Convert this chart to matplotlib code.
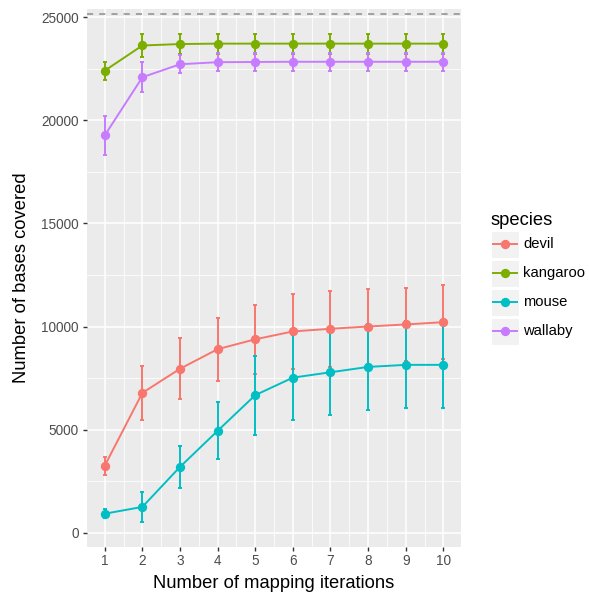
import matplotlib
matplotlib.use("Agg")
import matplotlib.pyplot as plt
from matplotlib.patches import Rectangle
from matplotlib.lines import Line2D
from matplotlib.ticker import MultipleLocator

plt.rcParams['font.family'] = ['Liberation Sans', 'DejaVu Sans']

# data
iterations = [1, 2, 3, 4, 5, 6, 7, 8, 9, 10]
species = ['devil', 'kangaroo', 'mouse', 'wallaby']
colors = {'devil': '#F8766D', 'kangaroo': '#7CAE00', 'mouse': '#00BFC4', 'wallaby': '#C77CFF'}

devil_mean = [3250, 6780, 7950, 8900, 9380, 9760, 9890, 10000, 10100, 10210]
devil_err = [430, 1320, 1470, 1520, 1660, 1800, 1830, 1810, 1790, 1810]
kangaroo_mean = [22410, 23630, 23700, 23720, 23720, 23720, 23720, 23720, 23720, 23720]
kangaroo_err = [440, 550, 480, 480, 480, 480, 480, 480, 480, 480]
mouse_mean = [920, 1250, 3190, 4940, 6670, 7520, 7780, 8040, 8140, 8140]
mouse_err = [220, 740, 1020, 1380, 1920, 2070, 2090, 2100, 2110, 2110]
wallaby_mean = [19270, 22090, 22720, 22820, 22830, 22840, 22840, 22840, 22840, 22840]
wallaby_err = [940, 730, 430, 440, 440, 440, 440, 440, 440, 440]

means = {'devil': devil_mean, 'kangaroo': kangaroo_mean, 'mouse': mouse_mean, 'wallaby': wallaby_mean}
errs = {'devil': devil_err, 'kangaroo': kangaroo_err, 'mouse': mouse_err, 'wallaby': wallaby_err}

genome_length = 25155

W, H = 589, 593
fig = plt.figure(figsize=(W / 100, H / 100), dpi=100)
ax = fig.add_axes([86.7 / W, 1 - 546.7 / H, (461 - 86.7) / W, (546.7 - 9) / H])

ax.set_facecolor('#EBEBEB')
for s in ax.spines.values():
    s.set_visible(False)
ax.xaxis.set_major_locator(MultipleLocator(1))
ax.xaxis.set_minor_locator(MultipleLocator(0.5))
ax.yaxis.set_major_locator(MultipleLocator(5000))
ax.yaxis.set_minor_locator(MultipleLocator(2500))
ax.grid(which='major', color='white', linewidth=1.1)
ax.grid(which='minor', color='white', linewidth=0.55)
ax.set_axisbelow(True)
ax.tick_params(which='major', length=3.2, width=1.0, color='#333333',
               labelsize=9.8, labelcolor='#4D4D4D', pad=2.4)
ax.tick_params(which='minor', length=0)

ax.axhline(genome_length, color='#8C8C8C', linestyle=(0, (4, 4)), linewidth=1.1, zorder=1)

for sp in species:
    c = colors[sp]
    ax.errorbar(iterations, means[sp], yerr=errs[sp], color=c, linewidth=1.4,
                elinewidth=1.4, capsize=1.6, capthick=1.4, marker='o',
                markersize=5.7, zorder=3)

ax.set_xlim(0.52, 10.47)
ax.set_ylim(-680, 25400)
ax.set_xlabel('Number of mapping iterations', fontsize=13.2)
ax.set_ylabel('Number of bases covered', fontsize=13.2)
ax.xaxis.set_label_coords(0.5, -0.052)
ax.yaxis.set_label_coords(-0.151, 0.5)

# legend drawn in figure pixels
fig.text(491 / W, 1 - 225 / H, 'species', fontsize=13.2, ha='left', va='baseline')
key_centers = [244.3, 273.3, 302.3, 331.3]
for sp, yc in zip(species, key_centers):
    c = colors[sp]
    fig.patches.append(Rectangle((491 / W, 1 - (yc + 13.5) / H), 28 / W, 27 / H,
                                 transform=fig.transFigure, facecolor='#F2F2F2',
                                 edgecolor='white', linewidth=0.8))
    fig.lines.append(Line2D([493 / W, 517 / W], [1 - yc / H, 1 - yc / H],
                            transform=fig.transFigure, color=c, linewidth=1.4))
    fig.lines.append(Line2D([505 / W], [1 - yc / H], transform=fig.transFigure,
                            color=c, marker='o', markersize=5.7, linestyle='none'))
    fig.text(523 / W, 1 - yc / H, sp, fontsize=10.6, ha='left', va='center')

fig.savefig('out.png', dpi=100)
